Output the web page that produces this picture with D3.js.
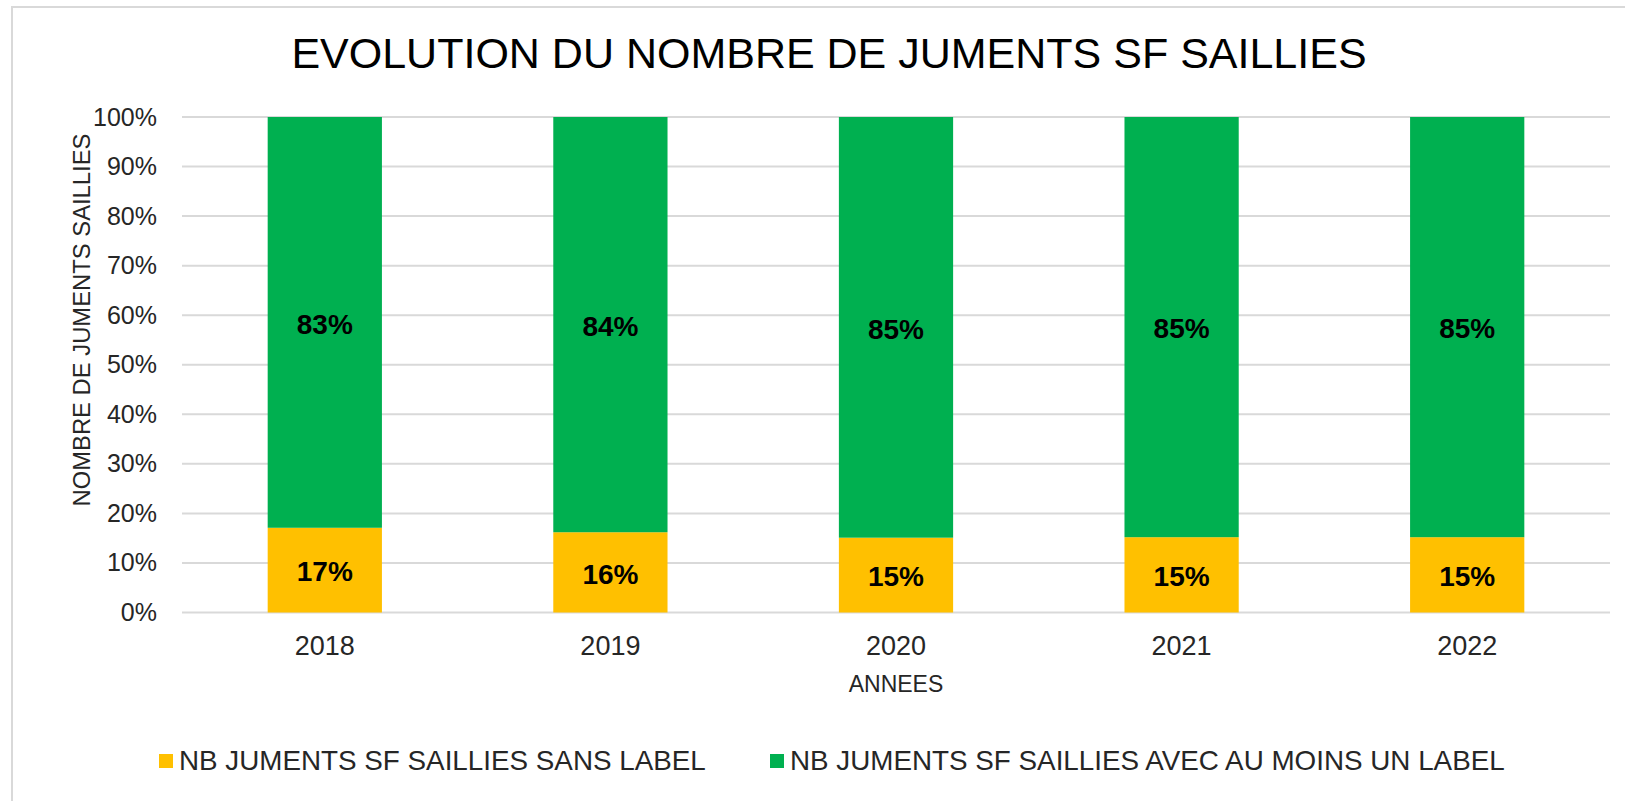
<!DOCTYPE html>
<html>
<head>
<meta charset="utf-8">
<script src="https://cdn.jsdelivr.net/npm/d3@7"></script>
<style>
  body { margin: 0; background: #fff; }
  svg text { font-family: "Liberation Sans", Arial, sans-serif; }
</style>
</head>
<body>
<svg width="1625" height="801"></svg>
<script>
let svg = d3.select("svg");

// data
let years = ['2018', '2019', '2020', '2021', '2022'];
let sansLabel = [0.171, 0.162, 0.151, 0.152, 0.152];
let avecLabel = [0.829, 0.838, 0.849, 0.848, 0.848];
let seriesNames = ['NB JUMENTS SF SAILLIES SANS LABEL', 'NB JUMENTS SF SAILLIES AVEC AU MOINS UN LABEL'];
let yTicks = [0, 0.1, 0.2, 0.3, 0.4, 0.5, 0.6, 0.7, 0.8, 0.9, 1];

let colors = ['#FFC000', '#00B050'];
let plotLeft = 182, plotRight = 1610, plotTop = 117, plotBottom = 612.5;

let rows = years.map((y, i) => ({year: y, s0: sansLabel[i], s1: avecLabel[i]}));
let stacked = d3.stack().keys(['s0', 's1'])(rows);

let x = d3.scaleBand().domain(years).range([plotLeft, plotRight]).paddingInner(0.6).paddingOuter(0.3);
let y = d3.scaleLinear().domain([0, 1]).range([plotBottom, plotTop]);

// outer frame
svg.append("rect")
    .attr("x", 12).attr("y", 7)
    .attr("width", 1700).attr("height", 900)
    .attr("fill", "none")
    .attr("stroke", "#D9D9D9")
    .attr("stroke-width", 2);

// title
svg.append("text")
    .attr("x", 829).attr("y", 68)
    .attr("text-anchor", "middle")
    .style("font-size", "43px")
    .attr("fill", "#000")
    .text("EVOLUTION DU NOMBRE DE JUMENTS SF SAILLIES");

// grid
svg.append("g").selectAll("line")
    .data(yTicks)
    .join("line")
    .attr("x1", plotLeft).attr("x2", plotRight)
    .attr("y1", d => y(d)).attr("y2", d => y(d))
    .attr("stroke", "#D9D9D9")
    .attr("stroke-width", 2);

// y axis labels
let yAxis = svg.append("g")
    .attr("transform", `translate(${plotLeft},0)`)
    .call(d3.axisLeft(y).tickValues(yTicks).tickFormat(d3.format(".0%")).tickSize(0).tickPadding(25));
yAxis.select(".domain").remove();
yAxis.selectAll("text").style("font-size", "25px").attr("fill", "#262626");

// x axis labels
let xAxis = svg.append("g")
    .attr("transform", `translate(0,${plotBottom})`)
    .call(d3.axisBottom(x).tickSize(0).tickPadding(23));
xAxis.select(".domain").remove();
xAxis.selectAll("text").style("font-size", "27px").attr("fill", "#262626");

// bars
let layers = svg.append("g").selectAll("g")
    .data(stacked)
    .join("g")
    .attr("fill", (d, i) => colors[i]);

layers.selectAll("rect")
    .data(d => d)
    .join("rect")
    .attr("x", d => x(d.data.year))
    .attr("y", d => y(d[1]))
    .attr("width", x.bandwidth())
    .attr("height", d => y(d[0]) - y(d[1]));

layers.selectAll("text")
    .data(d => d)
    .join("text")
    .attr("x", d => x(d.data.year) + x.bandwidth() / 2)
    .attr("y", d => (y(d[0]) + y(d[1])) / 2)
    .attr("dy", "0.4em")
    .attr("text-anchor", "middle")
    .attr("fill", "#000")
    .style("font-size", "28px")
    .style("font-weight", "bold")
    .text(d => Math.round((d[1] - d[0]) * 100) + "%");

// axis titles
svg.append("text")
    .attr("x", (plotLeft + plotRight) / 2).attr("y", 692)
    .attr("text-anchor", "middle")
    .style("font-size", "23px")
    .attr("fill", "#262626")
    .text("ANNEES");

svg.append("text")
    .attr("transform", "translate(90,320) rotate(-90)")
    .attr("text-anchor", "middle")
    .style("font-size", "23.8px")
    .attr("fill", "#262626")
    .text("NOMBRE  DE  JUMENTS  SAILLIES");

// legend
let legendX = [159, 770];
let legend = svg.append("g").selectAll("g")
    .data(seriesNames)
    .join("g")
    .attr("transform", (d, i) => `translate(${legendX[i]},754)`);
legend.append("rect")
    .attr("width", 14).attr("height", 14)
    .attr("fill", (d, i) => colors[i]);
legend.append("text")
    .attr("x", 20).attr("y", 16)
    .style("font-size", "27.8px")
    .attr("fill", "#262626")
    .text(d => d);
</script>
</body>
</html>
